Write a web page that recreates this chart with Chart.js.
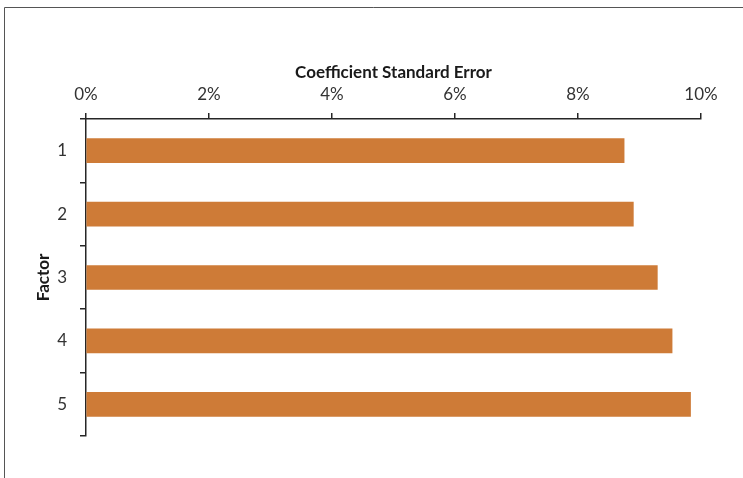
<!DOCTYPE html>
<html>
<head>
<meta charset="utf-8">
<script src="https://cdn.jsdelivr.net/npm/chart.js@4.4.1/dist/chart.umd.min.js"></script>
<style>
  html, body { margin: 0; padding: 0; background: #fff; }
  #wrap { width: 743px; height: 478px; position: relative; }
</style>
</head>
<body>
<div id="wrap"><canvas id="BarChart" width="743" height="478"></canvas></div>
<script>
// data
var factors = ["1", "2", "3", "4", "5"];
var stdError = [8.75, 8.9, 9.29, 9.53, 9.83];   // percent
var xTicks = [0, 2, 4, 6, 8, 10];

var barColor = "#CE7B37";
var axisColor = "#262626";
var fontName = "Lato, 'Open Sans', sans-serif";

// frame lines (top and left of the picture)
var framePlugin = {
  id: "frame",
  beforeDraw: function (chart) {
    var ctx = chart.ctx;
    ctx.save();
    ctx.strokeStyle = "#555";
    ctx.lineWidth = 1;
    ctx.beginPath();
    ctx.moveTo(4.5, 478);
    ctx.lineTo(4.5, 7.5);
    ctx.lineTo(743, 7.5);
    ctx.stroke();
    ctx.restore();
  }
};

function Barchart() {
  var data = {
    labels: factors,
    datasets: [{
      data: stdError,
      backgroundColor: barColor,
      borderWidth: 0,
      barThickness: 24
    }]
  };

  var configBar = {
    type: "bar",
    data: data,
    plugins: [framePlugin],
    options: {
      indexAxis: "y",
      responsive: false,
      animation: false,
      layout: { padding: { left: 29, top: 58, right: 42, bottom: 42 } },
      plugins: {
        legend: { display: false },
        tooltip: { enabled: false }
      },
      scales: {
        x: {
          position: "top",
          min: 0,
          max: 10,
          afterBuildTicks: function (scale) {
            scale.ticks = xTicks.map(function (v) { return { value: v }; });
          },
          afterFit: function (scale) { scale.height = 61; },
          title: {
            display: true,
            text: "Coefficient Standard Error",
            color: "#1a1a1a",
            font: { family: fontName, size: 17, weight: "bold" },
            padding: { top: 4, bottom: 4 }
          },
          ticks: {
            color: "#333",
            font: { family: fontName, size: 17 },
            padding: 8,
            maxRotation: 0,
            callback: function (v) { return v + "%"; }
          },
          grid: {
            display: true,
            drawOnChartArea: false,
            drawTicks: true,
            tickLength: 6,
            color: axisColor,
            lineWidth: 1.5
          },
          border: { display: true, color: axisColor, width: 1.5 }
        },
        y: {
          afterFit: function (scale) { scale.width = 57; },
          title: {
            display: true,
            text: "Factor",
            color: "#1a1a1a",
            font: { family: fontName, size: 17, weight: "bold" },
            padding: { top: 4, bottom: 4 }
          },
          ticks: {
            color: "#333",
            font: { family: fontName, size: 17 },
            padding: 13
          },
          grid: {
            display: true,
            offset: true,
            drawOnChartArea: false,
            drawTicks: true,
            tickLength: 6,
            color: axisColor,
            lineWidth: 1.5
          },
          border: { display: true, color: axisColor, width: 1.5 }
        }
      }
    }
  };

  new Chart(document.getElementById("BarChart"), configBar);
}

Barchart();
</script>
</body>
</html>
